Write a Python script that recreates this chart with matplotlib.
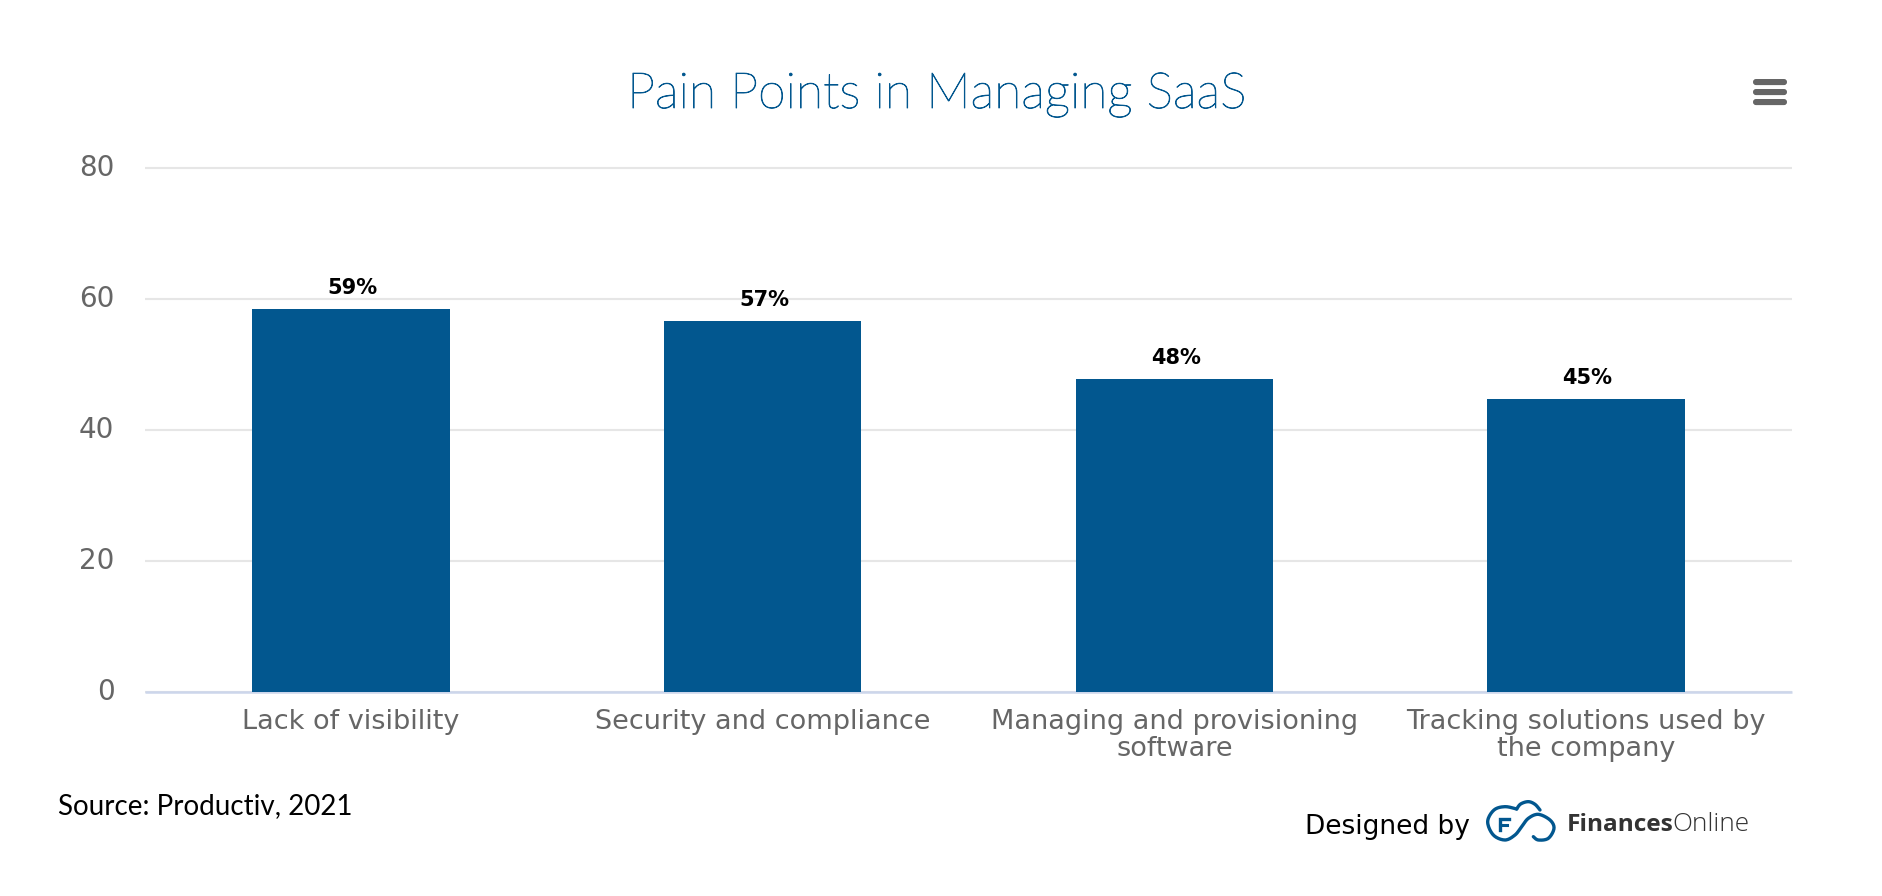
import numpy as np
import matplotlib
matplotlib.use('Agg')
import matplotlib.pyplot as plt
import matplotlib.patheffects as pe
from matplotlib.patches import FancyBboxPatch
from matplotlib.transforms import ScaledTranslation

categories = ['Lack of visibility', 'Security and compliance',
              'Managing and provisioning\nsoftware', 'Tracking solutions used by\nthe company']
values = [58.5, 56.7, 47.8, 44.8]
value_labels = ['59%', '57%', '48%', '45%']
y_ticks = [0, 20, 40, 60, 80]

W, H = 1882, 896
BLUE = '#02578f'
GREY = '#666666'

fig = plt.figure(figsize=(W / 100, H / 100), dpi=100, facecolor='white')
ax = fig.add_axes([145 / W, 1 - 692 / H, (1792 - 145) / W, (692 - 168) / H])

x = np.arange(len(categories))
bars = ax.bar(x, values, width=0.48, color=BLUE, zorder=3)
ax.set_xlim(-0.5, len(categories) - 0.5)
ax.set_ylim(0, 80)
ax.set_yticks(y_ticks)
ax.set_xticks(x)
ax.set_xticklabels(categories, fontsize=19.5, color=GREY, linespacing=1.03, family='DejaVu Sans')
ax.tick_params(axis='x', length=0, pad=12.5)
ax.tick_params(axis='y', length=0, pad=22, labelsize=20, labelcolor=GREY)
ax.grid(axis='y', color='#e6e6e6', lw=1.5, zorder=0)
ax.set_axisbelow(True)
for line in ax.get_ygridlines():
    line.set_clip_on(False)
    line.set_solid_capstyle('butt')
for name in ['top', 'right', 'left']:
    ax.spines[name].set_visible(False)
ax.spines['bottom'].set_color('#ccd6eb')
ax.spines['bottom'].set_linewidth(1.8)
ax.spines['bottom'].set_capstyle('butt')

# y labels sit a little above their gridlines in the original
for lab in ax.get_yticklabels():
    lab.set_transform(lab.get_transform() + ScaledTranslation(0, 2 / 72, fig.dpi_scale_trans))

for xi, v, lab in zip(x, values, value_labels):
    ax.annotate(lab, (xi, v), xytext=(1, 10.5), textcoords='offset points', ha='center', va='baseline',
                fontsize=15, fontweight='bold', color='black', zorder=4)

# everything outside the plot area, placed in image pixels
over = fig.add_axes([0, 0, 1, 1], zorder=5)
over.set_xlim(0, W)
over.set_ylim(H, 0)
over.axis('off')

title = over.text(937, 108, 'Pain Points in Managing SaaS', family='Lato', fontweight='light', fontsize=35.9,
                  color=BLUE, ha='center', va='baseline')
title.set_path_effects([pe.withStroke(linewidth=0.6, foreground=BLUE)])
over.text(58, 814, 'Source: Productiv, 2021', family='Lato', fontsize=20, color='black', va='baseline')
over.text(1305, 834, 'Designed by', family='DejaVu Sans', fontsize=19, color='black', va='baseline')
over.text(1567, 831, 'Finances', family='Open Sans', fontweight='bold', fontsize=17.6, color='#333333', va='baseline')
over.text(1672, 831, 'Online', family='Open Sans', fontweight='light', fontsize=18.8, color='#333333', va='baseline')

# menu icon
for top in [79, 89, 99]:
    over.add_patch(FancyBboxPatch((1756, top + 3), 28, 0.1, boxstyle='round,pad=3,rounding_size=3',
                                  fc=GREY, ec='none'))


def smooth(pts, n=12):
    # catmull-rom through the traced points of the logo
    pts = np.array(pts, dtype=float)
    pts = np.vstack([pts[0], pts, pts[-1]])
    out = []
    for i in range(1, len(pts) - 2):
        p0, p1, p2, p3 = pts[i - 1], pts[i], pts[i + 1], pts[i + 2]
        for t in np.linspace(0, 1, n):
            out.append(0.5 * (2 * p1 + (p2 - p0) * t + (2 * p0 - 5 * p1 + 4 * p2 - p3) * t ** 2
                              + (3 * p1 - p0 - 3 * p2 + p3) * t ** 3))
    out = np.array(out)
    return 1470 + out[:, 0] / 3, 795 + out[:, 1] / 3


logo_main = [(140, 42), (105, 35), (72, 45), (53, 80), (70, 120), (105, 135), (135, 120), (155, 95),
             (175, 70), (205, 58), (240, 75), (252, 100), (235, 130), (205, 135), (190, 125)]
logo_top = [(140, 42), (152, 27), (175, 20), (195, 28), (210, 45)]
for pts in [logo_main, logo_top]:
    lx, ly = smooth(pts)
    over.plot(lx, ly, color=BLUE, lw=2.4, solid_capstyle='round')
over.plot([1470 + 116 / 3, 1470 + 90 / 3, 1470 + 90 / 3], [795 + 72 / 3, 795 + 72 / 3, 795 + 106 / 3],
          color=BLUE, lw=2.4, solid_joinstyle='miter')
over.plot([1470 + 90 / 3, 1470 + 110 / 3], [795 + 91 / 3, 795 + 91 / 3], color=BLUE, lw=2.2)

fig.savefig('out.png', dpi=100, facecolor='white')
